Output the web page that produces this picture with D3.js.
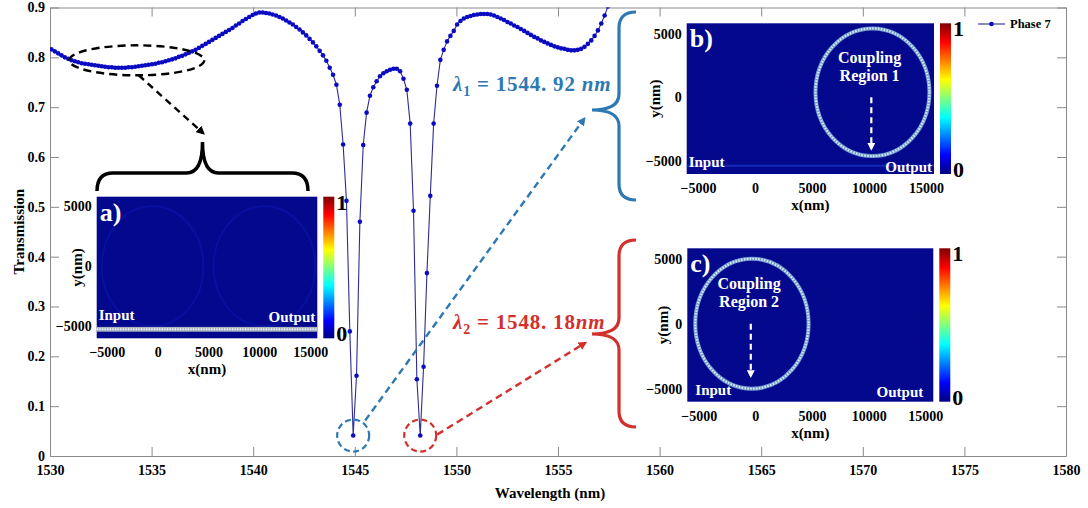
<!DOCTYPE html>
<html lang="en">
<head>
<meta charset="UTF-8">
<title>Transmission spectrum</title>
<script src="https://cdn.jsdelivr.net/npm/d3@7"></script>
<style>
    body { margin: 0; background: #fff; }
    svg text { font-family: "Liberation Serif", "Times New Roman", serif; font-weight: bold; }
    .axis path, .axis line { stroke: #8a8a8a; }
    .axis text { fill: #000; font-size: 14px; }
    .field text { fill: #000; font-size: 14px; }
</style>
</head>
<body>
<svg width="1088" height="508"></svg>
<script>
    // spectrum (nm, transmission)
    var wavelength = [
        1530.07, 1530.235, 1530.4, 1530.565, 1530.73, 1530.895, 1531.06, 1531.225, 1531.39, 1531.555,
        1531.72, 1531.885, 1532.05, 1532.215, 1532.38, 1532.545, 1532.71, 1532.875, 1533.04, 1533.205,
        1533.37, 1533.535, 1533.7, 1533.865, 1534.03, 1534.195, 1534.36, 1534.525, 1534.69, 1534.855,
        1535.02, 1535.185, 1535.35, 1535.515, 1535.68, 1535.845, 1536.01, 1536.175, 1536.34, 1536.505,
        1536.67, 1536.835, 1537.0, 1537.165, 1537.33, 1537.495, 1537.66, 1537.825, 1537.99, 1538.155,
        1538.32, 1538.485, 1538.65, 1538.815, 1538.98, 1539.145, 1539.31, 1539.475, 1539.64, 1539.805,
        1539.97, 1540.135, 1540.3, 1540.465, 1540.63, 1540.795, 1540.96, 1541.125, 1541.29, 1541.455,
        1541.62, 1541.785, 1541.95, 1542.115, 1542.28, 1542.445, 1542.61, 1542.775, 1542.94, 1543.105,
        1543.27, 1543.435, 1543.6, 1543.765, 1543.93, 1544.095, 1544.26, 1544.425, 1544.59, 1544.755,
        1544.92, 1545.085, 1545.25, 1545.415, 1545.58, 1545.745, 1545.91, 1546.075, 1546.24, 1546.405,
        1546.57, 1546.735, 1546.9, 1547.065, 1547.23, 1547.395, 1547.56, 1547.725, 1547.89, 1548.055,
        1548.22, 1548.385, 1548.55, 1548.715, 1548.88, 1549.045, 1549.21, 1549.375, 1549.54, 1549.705,
        1549.87, 1550.035, 1550.2, 1550.365, 1550.53, 1550.695, 1550.86, 1551.025, 1551.19, 1551.355,
        1551.52, 1551.685, 1551.85, 1552.015, 1552.18, 1552.345, 1552.51, 1552.675, 1552.84, 1553.005,
        1553.17, 1553.335, 1553.5, 1553.665, 1553.83, 1553.995, 1554.16, 1554.325, 1554.49, 1554.655,
        1554.82, 1554.985, 1555.15, 1555.315, 1555.48, 1555.645, 1555.81, 1555.975, 1556.14, 1556.305,
        1556.47, 1556.635, 1556.8, 1556.965, 1557.13, 1557.295, 1557.46, 1557.625
    ];
    var transmission = [
        0.816, 0.812, 0.808, 0.804, 0.800, 0.797, 0.794, 0.792, 0.790, 0.788,
        0.787, 0.786, 0.785, 0.784, 0.783, 0.782, 0.781, 0.780, 0.780, 0.779,
        0.779, 0.779, 0.779, 0.780, 0.780, 0.781, 0.782, 0.783, 0.784, 0.785,
        0.786, 0.787, 0.789, 0.790, 0.792, 0.794, 0.796, 0.798, 0.801, 0.803,
        0.806, 0.809, 0.812, 0.815, 0.819, 0.823, 0.827, 0.831, 0.835, 0.839,
        0.843, 0.847, 0.851, 0.855, 0.859, 0.864, 0.868, 0.873, 0.877, 0.881,
        0.885, 0.888, 0.890, 0.890, 0.889, 0.888, 0.886, 0.884, 0.881, 0.878,
        0.874, 0.870, 0.866, 0.861, 0.856, 0.850, 0.844, 0.837, 0.830, 0.822,
        0.813, 0.804, 0.793, 0.779, 0.765, 0.745, 0.705, 0.625, 0.512, 0.250,
        0.041, 0.161, 0.470, 0.624, 0.689, 0.723, 0.740, 0.752, 0.762, 0.768,
        0.772, 0.775, 0.777, 0.777, 0.772, 0.757, 0.735, 0.667, 0.492, 0.154,
        0.041, 0.179, 0.367, 0.522, 0.667, 0.743, 0.795, 0.815, 0.832, 0.843,
        0.853, 0.866, 0.873, 0.878, 0.881, 0.883, 0.885, 0.886, 0.887, 0.887,
        0.887, 0.886, 0.884, 0.881, 0.878, 0.875, 0.871, 0.868, 0.864, 0.861,
        0.857, 0.853, 0.849, 0.845, 0.841, 0.838, 0.834, 0.831, 0.828, 0.825,
        0.822, 0.820, 0.818, 0.817, 0.815, 0.814, 0.814, 0.815, 0.817, 0.821,
        0.827, 0.834, 0.843, 0.854, 0.868, 0.884, 0.902, 0.922
    ];
    var seriesName = 'Phase 7';
    var xTicks = [1530, 1535, 1540, 1545, 1550, 1555, 1560, 1565, 1570, 1575, 1580];
    var yTicks = [0, 0.1, 0.2, 0.3, 0.4, 0.5, 0.6, 0.7, 0.8, 0.9];
    var resonanceNames = ['1', '2'];
    var resonanceValues = ['1544. 92', '1548. 18'];
    var resonanceUnits = [' nm', 'nm'];
    var resonanceWavelengths = [1544.92, 1548.22];

    // field maps (nm)
    var fieldXTicks = [-5000, 0, 5000, 10000, 15000];
    var fieldYTicks = [-5000, 0, 5000];
    var fieldXExtent = [-6000, 15700];
    var fieldYExtent = [-6000, 5800];
    var panelNames = ['a)', 'b)', 'c)'];
    var ringCentersX = [[-500, 10500], [10300], [-300]];
    var ringCentersY = [[0, 0], [400], [0]];
    var ringRadius = 5000;
    var couplingNames = [null, ['Coupling', 'Region 1'], ['Coupling', 'Region 2']];
    var colorbarTicks = ['0', '1'];
    var jetStops = ['#00007f', '#0000ff', '#00ffff', '#ffff00', '#ff0000', '#7f0000'];
    var jetOffsets = [0, 0.125, 0.375, 0.625, 0.875, 1];

    var svg = d3.select('svg'),
        plotLeft = 50, plotRight = 1066, plotTop = 7.5, plotBottom = 456,
        x = d3.scaleLinear().domain([1530, 1580]).range([plotLeft, plotRight]),
        y = d3.scaleLinear().domain([0, 0.9]).range([plotBottom, plotTop]);

    var defs = svg.append('defs');
    defs.append('clipPath').attr('id', 'plotClip')
        .append('rect')
        .attr('x', plotLeft).attr('y', plotTop)
        .attr('width', plotRight - plotLeft).attr('height', plotBottom - plotTop);

    var grad = defs.append('linearGradient').attr('id', 'jet')
        .attr('x1', 0).attr('y1', 1).attr('x2', 0).attr('y2', 0);
    jetStops.forEach(function(c, i) {
        grad.append('stop').attr('offset', jetOffsets[i]).attr('stop-color', c);
    });

    function arrowMarker(id, color) {
        defs.append('marker').attr('id', id)
            .attr('viewBox', '0 0 10 10').attr('refX', 7).attr('refY', 5)
            .attr('markerWidth', 3.6).attr('markerHeight', 3.6)
            .attr('orient', 'auto')
            .append('path').attr('d', 'M0,0L10,5L0,10z').attr('fill', color);
    }
    var blue = '#2e78b4', red = '#d2302c';
    arrowMarker('arrBlack', '#000');
    arrowMarker('arrBlue', blue);
    arrowMarker('arrRed', red);
    arrowMarker('arrWhite', '#fff');

    // axes
    svg.append('g').attr('class', 'axis')
        .attr('transform', 'translate(0,' + plotBottom + ')')
        .call(d3.axisBottom(x).tickValues(xTicks).tickSize(-9).tickSizeOuter(0).tickPadding(9).tickFormat(d3.format('d')));
    svg.append('g').attr('class', 'axis')
        .attr('transform', 'translate(0,' + plotTop + ')')
        .call(d3.axisTop(x).tickValues(xTicks).tickSize(-9).tickSizeOuter(0).tickFormat(''));
    svg.append('g').attr('class', 'axis')
        .attr('transform', 'translate(' + plotLeft + ',0)')
        .call(d3.axisLeft(y).tickValues(yTicks).tickSize(-9).tickSizeOuter(0).tickPadding(5)
            .tickFormat(function(d) { return d === 0 ? '0' : d3.format('.1f')(d); }));
    svg.append('g').attr('class', 'axis')
        .attr('transform', 'translate(' + plotRight + ',0)')
        .call(d3.axisRight(y).tickValues(yTicks).tickSize(-9).tickSizeOuter(0).tickFormat(''));

    svg.append('text')
        .attr('transform', 'translate(19,' + (plotTop + plotBottom) / 2 + ') rotate(-90)')
        .attr('text-anchor', 'middle').attr('dy', '0.35em')
        .style('font-size', '15px')
        .text('Transmission');
    svg.append('text')
        .attr('x', 550).attr('y', 498)
        .attr('text-anchor', 'middle')
        .style('font-size', '15px')
        .text('Wavelength (nm)');

    // spectrum
    var pts = wavelength.map(function(w, i) { return [w, transmission[i]]; });
    var lineG = d3.line()
        .x(function(d) { return x(d[0]); })
        .y(function(d) { return y(d[1]); });
    var plotG = svg.append('g').attr('clip-path', 'url(#plotClip)');
    plotG.append('path').datum(pts)
        .attr('d', lineG)
        .attr('fill', 'none')
        .attr('stroke', '#2d2d92')
        .attr('stroke-width', 1.1);
    plotG.selectAll('circle.pt').data(pts).join('circle')
        .attr('class', 'pt')
        .attr('cx', function(d) { return x(d[0]); })
        .attr('cy', function(d) { return y(d[1]); })
        .attr('r', 2.3)
        .attr('fill', '#0a0ac2');

    // legend
    var lg = svg.append('g');
    lg.append('line').attr('x1', 978).attr('x2', 1005).attr('y1', 24).attr('y2', 24)
        .attr('stroke', '#2d2d92').attr('stroke-width', 1.1);
    lg.append('circle').attr('cx', 991.5).attr('cy', 24).attr('r', 2.3).attr('fill', '#0a0ac2');
    lg.append('text').attr('x', 1010).attr('y', 28).style('font-size', '12.5px').text(seriesName);

    // braces
    function hBrace(xa, xc, yb, yp, yt, r) {
        var xm = (xa + xc) / 2;
        return 'M' + xa + ',' + yb + 'Q' + xa + ',' + yp + ' ' + (xa + r) + ',' + yp +
            'L' + (xm - r) + ',' + yp + 'Q' + xm + ',' + yp + ' ' + xm + ',' + yt +
            'Q' + xm + ',' + yp + ' ' + (xm + r) + ',' + yp +
            'L' + (xc - r) + ',' + yp + 'Q' + xc + ',' + yp + ' ' + xc + ',' + yb;
    }
    function vBrace(ya, yc, ym, xe, xp, xt, r) {
        return 'M' + xe + ',' + ya + 'Q' + xp + ',' + ya + ' ' + xp + ',' + (ya + r) +
            'L' + xp + ',' + (ym - r) + 'Q' + xp + ',' + ym + ' ' + xt + ',' + ym +
            'Q' + xp + ',' + ym + ' ' + xp + ',' + (ym + r) +
            'L' + xp + ',' + (yc - r) + 'Q' + xp + ',' + yc + ' ' + xe + ',' + yc;
    }
    svg.append('path').attr('d', hBrace(97, 308, 191, 173, 142, 16))
        .attr('fill', 'none').attr('stroke', '#000').attr('stroke-width', 3.5);
    svg.append('path').attr('d', vBrace(12, 200, 110, 636, 619, 592, 16))
        .attr('fill', 'none').attr('stroke', blue).attr('stroke-width', 3.2);
    svg.append('path').attr('d', vBrace(240, 427, 334, 636, 619, 592, 16))
        .attr('fill', 'none').attr('stroke', red).attr('stroke-width', 3.2);

    // black ellipse around the shallow dip + arrow to inset a
    svg.append('ellipse')
        .attr('cx', x(1534.27)).attr('cy', y(0.794))
        .attr('rx', 67.5).attr('ry', 15)
        .attr('fill', 'none').attr('stroke', '#000')
        .attr('stroke-width', 2.4).attr('stroke-dasharray', '8,5');
    svg.append('line')
        .attr('x1', x(1534.27) + 2).attr('y1', y(0.794) + 15)
        .attr('x2', 203).attr('y2', 133)
        .attr('stroke', '#000').attr('stroke-width', 2.4).attr('stroke-dasharray', '7,5')
        .attr('marker-end', 'url(#arrBlack)');

    // resonance circles, arrows and labels
    var resColors = [blue, red];
    var arrowEnds = [[584, 119], [585, 343]];
    var labelY = [91, 329];
    resonanceWavelengths.forEach(function(w, i) {
        var idx = d3.minIndex(pts, function(d) { return Math.abs(d[0] - w) < 0.5 ? d[1] : Infinity; });
        var cx = x(pts[idx][0]), cy = y(pts[idx][1]);
        svg.append('circle').attr('cx', cx).attr('cy', cy).attr('r', 16)
            .attr('fill', 'none').attr('stroke', resColors[i])
            .attr('stroke-width', 2.2).attr('stroke-dasharray', '6,3.5');
        var sx = i === 0 ? cx + 12 : cx + 17, sy = i === 0 ? cy - 15 : cy - 1;
        svg.append('line')
            .attr('x1', sx).attr('y1', sy)
            .attr('x2', arrowEnds[i][0]).attr('y2', arrowEnds[i][1])
            .attr('stroke', resColors[i]).attr('stroke-width', 2.4).attr('stroke-dasharray', '7,4.5')
            .attr('marker-end', 'url(#' + (i === 0 ? 'arrBlue' : 'arrRed') + ')');
        var t = svg.append('text').attr('x', 453).attr('y', labelY[i])
            .attr('fill', resColors[i]).style('font-size', '21px').style('letter-spacing', '0.8px');
        t.append('tspan').style('font-style', 'italic').text('\u03bb');
        t.append('tspan').attr('dy', 5).style('font-size', '14px').text(resonanceNames[i]);
        t.append('tspan').attr('dy', -5).text(' = ' + resonanceValues[i]);
        t.append('tspan').style('font-style', 'italic').text(resonanceUnits[i]);
    });

    // field-map insets
    var boxes = [
        {x0: 96.7, x1: 317.3, y0: 196.7, y1: 338.3, yLabX: 77},
        {x0: 686.7, x1: 934, y0: 23.3, y1: 174, yLabX: 655},
        {x0: 687.3, x1: 933.3, y0: 248.3, y1: 401.7, yLabX: 663}
    ];
    boxes.forEach(function(b, i) {
        var g = svg.append('g').attr('class', 'field'),
            fx = d3.scaleLinear().domain(fieldXExtent).range([b.x0, b.x1]),
            fy = d3.scaleLinear().domain(fieldYExtent).range([b.y1, b.y0]);

        g.append('rect').attr('x', b.x0).attr('y', b.y0)
            .attr('width', b.x1 - b.x0).attr('height', b.y1 - b.y0)
            .attr('fill', '#03088c');

        ringCentersX[i].forEach(function(cxn, j) {
            var e = g.append('g');
            var cx = fx(cxn), cy = fy(ringCentersY[i][j]),
                rx = fx(cxn + ringRadius) - cx, ry = cy - fy(ringCentersY[i][j] + ringRadius);
            if (i === 0) {
                e.append('ellipse').attr('cx', cx).attr('cy', cy).attr('rx', rx).attr('ry', ry)
                    .attr('fill', 'none').attr('stroke', '#0810a0').attr('stroke-width', 2);
            } else {
                e.append('ellipse').attr('cx', cx).attr('cy', cy).attr('rx', rx).attr('ry', ry)
                    .attr('fill', 'none').attr('stroke', '#6f9acb').attr('stroke-width', 4);
                e.append('ellipse').attr('cx', cx).attr('cy', cy).attr('rx', rx).attr('ry', ry)
                    .attr('fill', 'none').attr('stroke', '#dbe8f4').attr('stroke-width', 2.2)
                    .attr('stroke-dasharray', '1.6,1.3');
            }
        });

        // bus waveguide
        if (i === 0) {
            g.append('rect').attr('x', b.x0).attr('y', fy(-5050))
                .attr('width', b.x1 - b.x0).attr('height', fy(-5450) - fy(-5050))
                .attr('fill', '#aab4c0');
            g.append('line').attr('x1', b.x0).attr('x2', b.x1)
                .attr('y1', fy(-5250)).attr('y2', fy(-5250))
                .attr('stroke', '#eef0f2').attr('stroke-width', 2).attr('stroke-dasharray', '1.3,1.3');
        } else if (i === 1) {
            g.append('line').attr('x1', b.x0).attr('x2', b.x1)
                .attr('y1', fy(-5350)).attr('y2', fy(-5350))
                .attr('stroke', '#1e3fd6').attr('stroke-width', 2).attr('opacity', 0.6);
        }

        if (couplingNames[i]) {
            var cxn = ringCentersX[i][0];
            g.append('text').attr('x', fx(cxn - 250)).attr('y', fy(2700))
                .attr('text-anchor', 'middle').style('fill', '#fff').style('font-size', '16px')
                .text(couplingNames[i][0]);
            g.append('text').attr('x', fx(cxn - 250)).attr('y', fy(1250))
                .attr('text-anchor', 'middle').style('fill', '#fff').style('font-size', '16px')
                .text(couplingNames[i][1]);
            g.append('line').attr('x1', fx(cxn - 100)).attr('x2', fx(cxn - 100))
                .attr('y1', fy(0)).attr('y2', fy(-4000))
                .attr('stroke', '#fff').attr('stroke-width', 2.2).attr('stroke-dasharray', '6,4')
                .attr('marker-end', 'url(#arrWhite)');
        }

        g.append('text').attr('x', b.x0 + 3).attr('y', b.y0 + 24)
            .style('fill', '#fff').style('font-size', '26px').text(panelNames[i]);
        var ioY = i === 0 ? b.y1 - 18 : b.y1 - 7;
        g.append('text').attr('x', b.x0 + (i === 2 ? 8 : 2)).attr('y', ioY)
            .style('fill', '#fff').style('font-size', '15px').text('Input');
        g.append('text').attr('x', b.x1 - (i === 2 ? 10 : 2)).attr('y', i === 1 ? b.y1 - 2 : ioY + 2)
            .attr('text-anchor', 'end')
            .style('fill', '#fff').style('font-size', '15px').text('Output');

        // colorbar
        var cbx = b.x1 + 6;
        g.append('rect').attr('x', cbx).attr('y', b.y0)
            .attr('width', 11).attr('height', b.y1 - b.y0)
            .attr('fill', 'url(#jet)');
        g.append('text').attr('x', cbx + 13).attr('y', b.y0 + 13)
            .style('font-size', '22px').text(colorbarTicks[1]);
        g.append('text').attr('x', cbx + 13).attr('y', b.y1 + 3)
            .style('font-size', '22px').text(colorbarTicks[0]);

        // inset axes
        var ax = g.append('g').attr('transform', 'translate(0,' + b.y1 + ')')
            .call(d3.axisBottom(fx).tickValues(fieldXTicks).tickSize(0).tickPadding(9).tickFormat(d3.format('d')));
        ax.select('.domain').remove();
        var ay = g.append('g').attr('transform', 'translate(' + b.x0 + ',0)')
            .call(d3.axisLeft(fy).tickValues(fieldYTicks).tickSize(0).tickPadding(5).tickFormat(d3.format('d')));
        ay.select('.domain').remove();
        g.append('text').attr('x', (b.x0 + b.x1) / 2).attr('y', b.y1 + 36)
            .attr('text-anchor', 'middle').style('font-size', '15px').text('x(nm)');
        g.append('text')
            .attr('transform', 'translate(' + b.yLabX + ',' + (b.y0 + b.y1) / 2 + ') rotate(-90)')
            .attr('text-anchor', 'middle').attr('dy', '0.35em')
            .style('font-size', '15px').text('y(nm)');
    });
</script>
</body>
</html>
